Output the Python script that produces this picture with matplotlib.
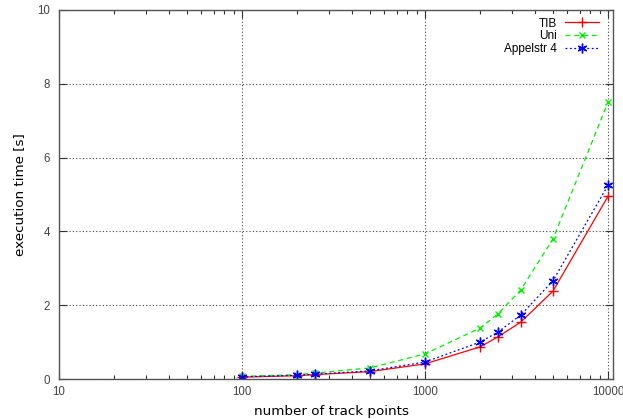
import matplotlib
matplotlib.use("Agg")
import matplotlib.pyplot as plt
from matplotlib.ticker import LogLocator, FixedLocator, NullFormatter

plt.rcParams['font.family'] = ['Liberation Sans', 'DejaVu Sans']

track_points = [100, 200, 250, 500, 1000, 2000, 2500, 3333, 5000, 10000]
tib = [0.05, 0.09, 0.12, 0.20, 0.41, 0.87, 1.14, 1.54, 2.38, 4.95]
uni = [0.07, 0.12, 0.16, 0.30, 0.68, 1.38, 1.76, 2.41, 3.79, 7.50]
appel = [0.06, 0.10, 0.13, 0.22, 0.46, 1.00, 1.27, 1.73, 2.66, 5.25]

x_ticks = [10, 100, 1000, 10000]
x_tick_labels = ["10", "100", "1000", "10000"]
y_ticks = [0, 2, 4, 6, 8, 10]
x_min, x_max = 10, 10650

W, H = 623, 419
fig = plt.figure(figsize=(W/100, H/100), dpi=100)
L, R, T, B = 59, 613, 10, 379
ax = fig.add_axes([L/W, (H-B)/H, (R-L)/W, (B-T)/H])

ax.plot(track_points, tib, color='#ff0000', lw=0.9, ls='-', marker='+', ms=7, mew=1.0, label='TIB')
ax.plot(track_points, uni, color='#00ee00', lw=0.9, ls=(0, (4, 3)), marker='x', ms=5, mew=1.0, label='Uni')
ax.plot(track_points, appel, color='#0000ff', lw=0.9, ls=(0, (1.5, 2)), marker=(6, 2, 0), ms=7, mew=1.0, label='Appelstr 4')

ax.set_xscale('log')
ax.set_xlim(x_min, x_max)
ax.set_ylim(0, 10)
ax.xaxis.set_major_locator(FixedLocator(x_ticks))
ax.set_xticklabels(x_tick_labels)
ax.xaxis.set_minor_locator(LogLocator(base=10, subs=range(2, 10)))
ax.xaxis.set_minor_formatter(NullFormatter())
ax.set_yticks(y_ticks)

ax.tick_params(which='both', direction='in', top=True, right=True, colors='#333333',
               labelcolor='#444444', labelsize=8.3)
ax.tick_params(which='major', length=6, width=0.8)
ax.tick_params(which='minor', length=3, width=0.8)
ax.tick_params(axis='x', pad=5)
ax.tick_params(axis='y', pad=6.5)

ax.grid(True, which='major', color='#444444', ls=(0, (1, 2)), lw=0.8)
for s in ax.spines.values():
    s.set_color('#555555')
    s.set_linewidth(1.0)

ax.set_xlabel('number of track points', fontsize=9.7, family='DejaVu Sans', va='center')
ax.set_ylabel('execution time [s]', fontsize=9.7, family='DejaVu Sans', va='center')
ax.xaxis.set_label_coords(0.5 - 5/(R-L), -32/(B-T))
ax.yaxis.set_label_coords(-39/(R-L), 0.5)

leg = ax.legend(loc='upper right', frameon=True, markerfirst=False, fontsize=8.5,
                handlelength=2.9, borderpad=0.3, borderaxespad=0,
                bbox_to_anchor=(1 - 10/(R-L), 1 - 4/(B-T)),
                labelspacing=0.05, handletextpad=0.7, fancybox=False)
leg.get_frame().set_facecolor('white')
leg.get_frame().set_edgecolor('none')
leg.get_frame().set_alpha(1)

fig.savefig('out.png', dpi=100)
